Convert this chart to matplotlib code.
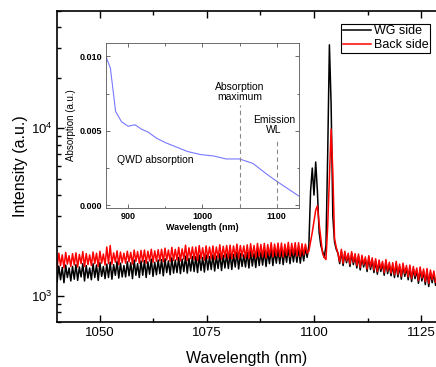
import numpy as np
import matplotlib
matplotlib.use('Agg')
import matplotlib.pyplot as plt
from matplotlib.ticker import MultipleLocator, LogLocator, FixedLocator, NullFormatter

plt.rcParams['font.family'] = ['Liberation Sans', 'DejaVu Sans']
plt.rcParams['mathtext.default'] = 'regular'

# spectrum sampled every 0.4 nm from 1040 nm
start_nm = 1040.0
step_nm = 0.4

wg_side = [
    1220, 1510, 1250, 1480, 1200, 1530, 1290, 1470, 1230, 1500,
    1260, 1540, 1240, 1490, 1300, 1560, 1230, 1520, 1280, 1470,
    1250, 1560, 1290, 1530, 1240, 1580, 1310, 1500, 1270, 1550,
    1290, 1590, 1260, 1540, 1330, 1610, 1280, 1570, 1300, 1520,
    1300, 1600, 1320, 1580, 1270, 1640, 1330, 1560, 1290, 1620,
    1330, 1630, 1290, 1600, 1350, 1660, 1310, 1590, 1340, 1640,
    1360, 1650, 1320, 1670, 1380, 1620, 1340, 1690, 1370, 1640,
    1380, 1700, 1360, 1660, 1400, 1730, 1370, 1680, 1410, 1720,
    1400, 1720, 1380, 1750, 1420, 1700, 1390, 1760, 1430, 1720,
    1440, 1760, 1410, 1730, 1460, 1790, 1420, 1750, 1470, 1780,
    1460, 1800, 1440, 1770, 1490, 1820, 1450, 1790, 1500, 1760,
    1490, 1820, 1470, 1850, 1510, 1800, 1480, 1860, 1520, 1830,
    1530, 1870, 1500, 1840, 1560, 1900, 1520, 1860, 1570, 1890,
    1560, 1910, 1540, 1880, 1590, 1940, 1560, 1900, 1600, 1920,
    1590, 1930, 1570, 1900, 1620, 1950, 1700,
    # 1098.8 - 1105.6 nm
    2000, 4200, 5800, 4000, 6300, 4200, 2400, 2000, 1850, 1700,
    2000, 7000, 31500, 14000, 3000, 2100, 1900, 1800,
    # 1106.0 - 1128.4 nm
    1560, 1850, 1520, 1800, 1580, 1760, 1500, 1790, 1540, 1740,
    1470, 1730, 1430, 1700, 1490, 1660, 1400, 1690, 1440, 1640,
    1380, 1620, 1350, 1590, 1400, 1560, 1330, 1600, 1360, 1540,
    1320, 1530, 1290, 1560, 1300, 1500, 1260, 1520, 1310, 1470,
    1250, 1480, 1220, 1450, 1270, 1420, 1190, 1440, 1230, 1400,
    1170, 1410, 1140, 1380, 1200, 1360, 1160,
]

back_side = [
    1480, 1800, 1520, 1760, 1470, 1820, 1550, 1740, 1500, 1790,
    1530, 1810, 1490, 1770, 1560, 1840, 1500, 1790, 1540, 1760,
    1520, 1830, 1560, 1800, 1500, 1850, 1570, 1780, 1530, 1960,
    1560, 2000, 1550, 1810, 1590, 1860, 1540, 1830, 1580, 1800,
    1570, 1850, 1600, 1820, 1550, 1880, 1610, 1840, 1570, 1870,
    1600, 1880, 1570, 1850, 1620, 1900, 1590, 1860, 1610, 1890,
    1620, 1900, 1600, 1930, 1640, 1880, 1610, 1950, 1630, 1900,
    1640, 1950, 1620, 1910, 1660, 2010, 1630, 1940, 1670, 1960,
    1650, 1960, 1630, 2000, 1670, 1940, 1640, 1990, 1680, 1960,
    1670, 1990, 1650, 1960, 1690, 2020, 1660, 1980, 1700, 2000,
    1680, 2010, 1670, 1990, 1710, 2040, 1680, 2000, 1720, 1990,
    1690, 2020, 1680, 2050, 1720, 2000, 1690, 2060, 1730, 2030,
    1710, 2060, 1690, 2030, 1740, 2080, 1710, 2040, 1740, 2070,
    1720, 2070, 1710, 2040, 1750, 2090, 1720, 2060, 1760, 2080,
    1730, 2080, 1720, 2050, 1760, 2040, 1800,
    # 1098.8 - 1105.6 nm
    1850, 2100, 2400, 2800, 3250, 3450, 2700, 2200, 1800, 1700,
    1650, 2600, 5000, 9900, 5500, 2200, 1950, 1800,
    # 1106.0 - 1128.4 nm
    1600, 1900, 1570, 1850, 1620, 1800, 1550, 1840, 1590, 1790,
    1520, 1780, 1480, 1750, 1540, 1710, 1450, 1740, 1490, 1690,
    1430, 1670, 1400, 1640, 1450, 1610, 1380, 1650, 1410, 1590,
    1370, 1580, 1340, 1610, 1350, 1550, 1310, 1570, 1360, 1520,
    1300, 1530, 1270, 1500, 1320, 1470, 1240, 1490, 1280, 1450,
    1220, 1460, 1190, 1430, 1250, 1410, 1210,
]

# inset: QWD absorption
abs_wl = [870, 876, 883, 891, 900, 909, 918, 927, 938, 950, 965, 980,
          997, 1015, 1032, 1050, 1068, 1086, 1100, 1115, 1130]
abs_val = [0.0100, 0.0092, 0.0063, 0.0056, 0.0053, 0.0054, 0.0051, 0.0049,
           0.0045, 0.0042, 0.0039, 0.0036, 0.0034, 0.0033, 0.0031, 0.0031,
           0.0028, 0.0021, 0.0016, 0.0011, 0.0006]
abs_max_wl = 1050
emission_wl = 1100

wl = start_nm + step_nm * np.arange(len(wg_side))

fig = plt.figure(figsize=(4.36, 3.67), dpi=100)
ax = fig.add_axes([0.131, 0.1226, 0.869, 0.847])
ax.plot(wl, wg_side, color='black', lw=1.1, label='WG side')
ax.plot(wl, back_side, color='red', lw=1.1, label='Back side')
ax.set_yscale('log')
ax.set_xlim(1040, 1128.5)
ax.set_ylim(700, 50000)
ax.xaxis.set_major_locator(FixedLocator([1050, 1075, 1100, 1125]))
ax.xaxis.set_minor_locator(MultipleLocator(12.5))
ax.yaxis.set_major_locator(LogLocator(base=10))
ax.yaxis.set_minor_locator(LogLocator(base=10, subs=np.arange(2, 10)))
ax.yaxis.set_minor_formatter(NullFormatter())
ax.tick_params(which='both', direction='in', top=True, right=False, width=1.0)
ax.tick_params(which='major', length=5, labelsize=9.5)
ax.tick_params(which='minor', length=3)
for s in ['left', 'bottom', 'top']:
    ax.spines[s].set_linewidth(1.2)
ax.spines['right'].set_visible(False)
ax.set_xlabel('Wavelength (nm)', fontsize=11.5, labelpad=9)
ax.set_ylabel('Intensity (a.u.)', fontsize=11.5, labelpad=2)
leg = ax.legend(loc='upper right', bbox_to_anchor=(0.985, 0.96), borderaxespad=0,
                fontsize=9, fancybox=False, edgecolor='black', framealpha=1,
                handlelength=2.3, handletextpad=0.2, borderpad=0.15, labelspacing=0.15)
leg.get_frame().set_linewidth(0.8)

# inset
ins = fig.add_axes([0.243, 0.4332, 0.4427, 0.4496])
ins.plot(abs_wl, abs_val, color='#7878ff', lw=0.8)
ins.plot([abs_max_wl, abs_max_wl], [-0.0002, 0.0067], color='#888888', lw=0.8, ls='--', dashes=(4, 3))
ins.plot([emission_wl, emission_wl], [-0.0002, 0.0045], color='#888888', lw=0.8, ls='--', dashes=(4, 3))
ins.set_xlim(870, 1130)
ins.set_ylim(-0.0002, 0.0109)
ins.xaxis.set_major_locator(FixedLocator([900, 1000, 1100]))
ins.xaxis.set_minor_locator(MultipleLocator(50))
ins.yaxis.set_major_locator(FixedLocator([0.0, 0.005, 0.010]))
ins.yaxis.set_minor_locator(MultipleLocator(0.0025))
ins.set_yticklabels(['0.000', '0.005', '0.010'])
ins.tick_params(which='both', direction='in', top=True, right=True, width=0.6, color='#555555')
ins.tick_params(which='major', length=3, labelsize=6.5, pad=3)
ins.tick_params(which='minor', length=1.8)
for lab in ins.get_xticklabels() + ins.get_yticklabels():
    lab.set_fontweight('bold')
for s in ins.spines.values():
    s.set_linewidth(0.6)
    s.set_color('#555555')
ins.set_xlabel('Wavelength (nm)', fontsize=6.5, labelpad=1, fontweight='bold')
ins.set_ylabel('Absorption (a.u.)', fontsize=7, labelpad=2)
ins.text(885, 0.0030, 'QWD absorption', fontsize=7.5, ha='left', va='center')
ins.text(1050, 0.0076, 'Absorption\nmaximum', fontsize=7.5, ha='center', va='center', linespacing=1.0)
ins.text(1096, 0.0054, 'Emission\nWL', fontsize=7.5, ha='center', va='center', linespacing=1.0)

fig.savefig('out.png', dpi=100)
